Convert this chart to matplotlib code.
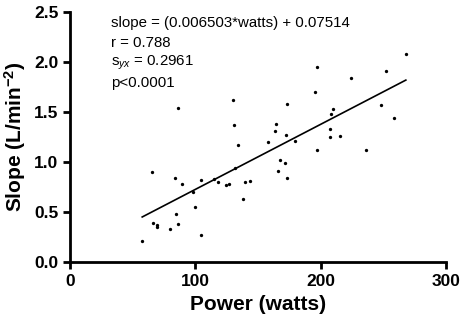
import matplotlib
matplotlib.use("Agg")
import numpy as np
import matplotlib.pyplot as plt

# power (watts) and slope (L/min^-2)
watts = [57.6, 65.7, 66.5, 69.7, 69.7, 79.5, 83.5, 84.6, 86.4, 86.4,
         89.6, 98.4, 99.5, 104.5, 104.5, 114.7, 118.3, 124.6, 126.6, 129.7,
         130.5, 131.7, 134.4, 138.3, 139.6, 143.4, 158.4, 163.3, 164.4, 166.2,
         168.0, 171.3, 172.3, 173.4, 173.4, 179.5, 195.5, 197.3, 197.3, 207.2,
         207.2, 208.2, 210.1, 215.5, 224.2, 236.2, 248.1, 252.1, 258.3, 268.1]
slope = [0.21, 0.90, 0.39, 0.37, 0.35, 0.33, 0.84, 0.48, 1.54, 0.38,
         0.78, 0.70, 0.55, 0.82, 0.27, 0.83, 0.80, 0.77, 0.78, 1.62,
         1.37, 0.94, 1.17, 0.63, 0.80, 0.81, 1.20, 1.31, 1.38, 0.91,
         1.02, 0.99, 1.27, 1.58, 0.84, 1.21, 1.70, 1.95, 1.12, 1.33,
         1.25, 1.48, 1.53, 1.26, 1.84, 1.12, 1.57, 1.91, 1.44, 2.08]

fit_slope = 0.006503
fit_intercept = 0.07514
stats_lines = ["slope = (0.006503*watts) + 0.07514",
               "r = 0.788",
               r"s$_{yx}$ = 0.2961",
               "p<0.0001"]

plt.rcParams["font.family"] = ["Liberation Sans", "DejaVu Sans"]
plt.rcParams["mathtext.fontset"] = "custom"
plt.rcParams["mathtext.rm"] = "Liberation Sans"
plt.rcParams["mathtext.it"] = "Liberation Sans:italic"
plt.rcParams["mathtext.bf"] = "Liberation Sans:bold"

fig = plt.figure(figsize=(4.61, 3.23), dpi=100)
ax = fig.add_axes([0.152, 0.189, 0.815, 0.774])

ax.plot(watts, slope, "o", color="black", markersize=2.4, markeredgewidth=0)

xs = np.array([min(watts), max(watts)])
ax.plot(xs, fit_slope * xs + fit_intercept, color="black", linewidth=1.2)

for i, line in enumerate(stats_lines):
    ax.text(33, 2.39 - i * 0.2, line, fontsize=10.8, va="center", ha="left")

ax.set_xlim(0, 300)
ax.set_ylim(0, 2.5)
ax.set_xticks([0, 100, 200, 300])
ax.set_yticks([0.0, 0.5, 1.0, 1.5, 2.0, 2.5])
ax.set_yticklabels(["0.0", "0.5", "1.0", "1.5", "2.0", "2.5"])

for side in ["top", "right"]:
    ax.spines[side].set_visible(False)
for side in ["left", "bottom"]:
    ax.spines[side].set_linewidth(2)
ax.tick_params(width=2, length=5, labelsize=12.5, direction="out")
ax.tick_params(axis="x", pad=4)
for lab in ax.get_xticklabels() + ax.get_yticklabels():
    lab.set_fontweight("bold")

ax.set_xlabel("Power (watts)", fontsize=15, fontweight="bold", labelpad=4)
ax.set_ylabel(r"Slope (L/min$^{\mathbf{-2}}$)", fontsize=15, fontweight="bold", labelpad=4)

fig.savefig("out.png", dpi=100)
